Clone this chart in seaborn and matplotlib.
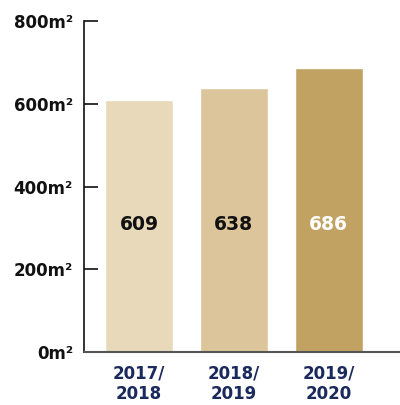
import matplotlib
matplotlib.use("Agg")
import matplotlib.pyplot as plt
import seaborn as sns
import pandas as pd

seasons = ["2017/\n2018", "2018/\n2019", "2019/\n2020"]
areas = [609, 638, 686]
bar_colors = ["#E8D9BA", "#DCC59B", "#C1A263"]
label_colors = ["#111111", "#111111", "#FFFFFF"]
y_ticks = [0, 200, 400, 600, 800]
y_tick_labels = ["0m²", "200m²", "400m²", "600m²", "800m²"]

sns.set_theme(style="white")
plt.rcParams["font.family"] = ["DejaVu Sans"]

df = pd.DataFrame({"season": seasons, "area": areas})

fig = plt.figure(figsize=(4.0, 4.05), dpi=100)
ax = fig.add_axes([0.21, 0.131, 0.79, 0.817])

sns.barplot(data=df, x="season", y="area", hue="season",
            palette=bar_colors, width=0.716, legend=False, ax=ax,
            saturation=1)

for i, (v, c) in enumerate(zip(areas, label_colors)):
    ax.text(i, 308, str(v), ha="center", va="center", fontsize=13.5,
            fontweight="bold", color=c)

ax.set_ylim(0, 800)
ax.set_xlim(-0.58, 2.75)
ax.set_yticks(y_ticks)
ax.set_yticklabels(y_tick_labels, fontsize=12, fontweight="bold",
                   color="#111111")
ax.set_xticks(range(len(seasons)))
ax.set_xticklabels(seasons, fontsize=12, fontweight="bold",
                   color="#1B2A5C", linespacing=1.2)
ax.set_xlabel("")
ax.set_ylabel("")

for s in ["top", "right"]:
    ax.spines[s].set_visible(False)
ax.spines["left"].set_color("#111111")
ax.spines["left"].set_linewidth(1.2)
ax.spines["bottom"].set_color("#555555")
ax.spines["bottom"].set_linewidth(1.5)

ax.tick_params(axis="y", direction="in", length=10, width=1.2,
               color="#111111", pad=8, left=True)
ax.tick_params(axis="x", length=0, pad=9)

fig.savefig("out.png", dpi=100)
